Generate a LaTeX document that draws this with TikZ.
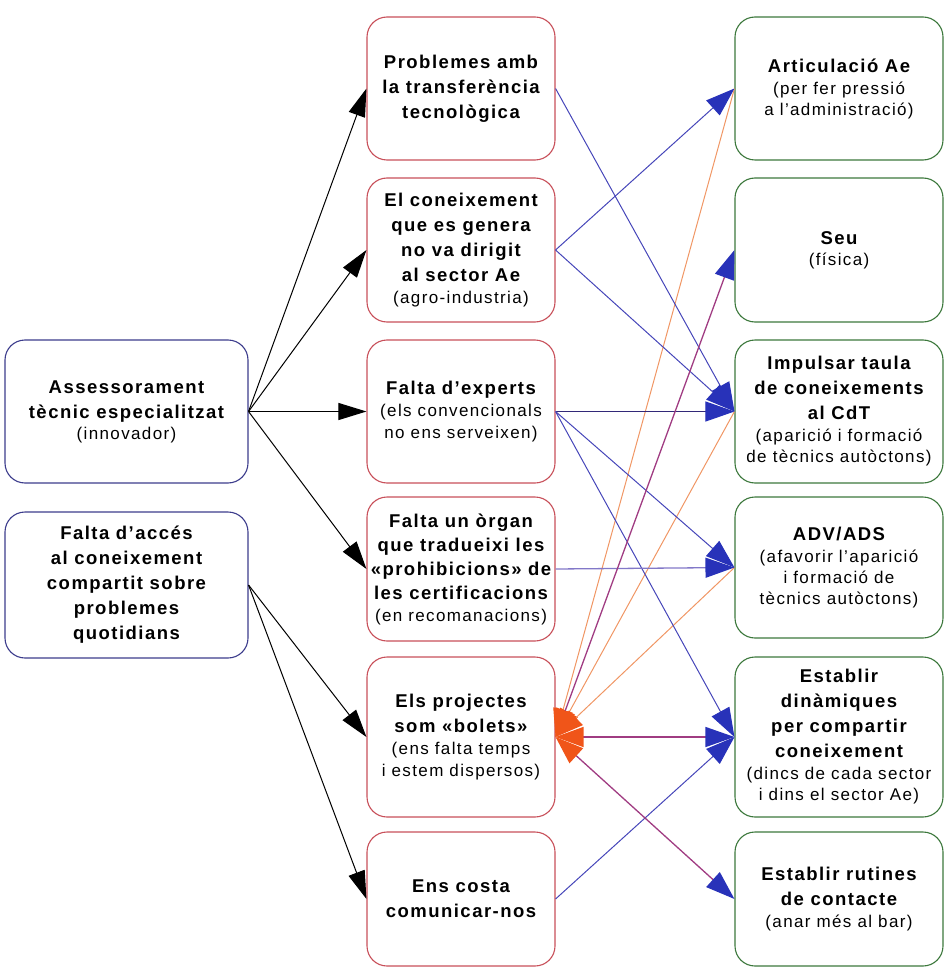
\documentclass[tikz,border=0pt]{standalone}
\usepackage{fontspec}
\setmainfont{Liberation Sans}[LetterSpace=8]
\usetikzlibrary{arrows.meta}
\definecolor{leftc}{RGB}{60,60,140}
\definecolor{midc}{RGB}{200,80,90}
\definecolor{rightc}{RGB}{60,120,60}
\definecolor{bluel}{RGB}{70,70,185}
\definecolor{bluetip}{RGB}{40,50,185}
\definecolor{orl}{RGB}{240,150,100}
\definecolor{ortip}{RGB}{240,85,25}
\definecolor{purl}{RGB}{160,60,130}
\definecolor{lavl}{RGB}{130,120,200}
\newcommand\hdT{\fontsize{18.5}{25}\selectfont\bfseries}
\newcommand\subT{\fontsize{17}{25}\selectfont\mdseries}
\begin{document}
\begin{tikzpicture}[x=1pt,y=-1pt,
  box/.style={draw, rounded corners=20pt, line width=1.1pt, inner sep=0pt, align=center, fill=white, font=\hdT},
  lbox/.style={box, draw=leftc, minimum width=243pt},
  mbox/.style={box, draw=midc, minimum width=188pt},
  rbox/.style={box, draw=rightc, minimum width=208pt},
  blk/.style={black, line width=1pt, -{Triangle[length=28pt,width=17pt]}},
  blu/.style={bluel, line width=1pt, -{Triangle[length=29pt,width=20pt,color=bluetip]}},
  ora/.style={orl, line width=1pt, -{Triangle[length=28pt,width=20pt,color=ortip]}},
  pur/.style={purl, line width=1.3pt, {Triangle[length=28pt,width=20pt,color=ortip]}-{Triangle[length=29pt,width=20pt,color=bluetip]}}
]
\useasboundingbox (0,0) rectangle (945,968);
% left column
\node[lbox, minimum height=143pt] (l1) at (126.5,411.5) {Assessorament\\tècnic especialitzat\\[-4pt]{\subT (innovador)}};
\node[lbox, minimum height=146pt] (l2) at (126.5,585) {Falta d'accés\\al coneixement\\compartit sobre\\problemes\\quotidians};
% middle column
\node[mbox, minimum height=143pt] (m1) at (461,88.5) {Problemes amb\\la transferència\\tecnològica};
\node[mbox, minimum height=144pt] (m2) at (461,250) {El coneixement\\que es genera\\no va dirigit\\al sector Ae\\[-3pt]{\subT (agro-industria)}};
\node[mbox, minimum height=143pt] (m3) at (461,411.5) {Falta d'experts\\[-3pt]{\subT (els convencionals}\\[-3pt]{\subT no ens serveixen)}};
\node[mbox, minimum height=144pt] (m4) at (461,569) {Falta un òrgan\\[-1pt]que tradueixi les\\[-1pt]«prohibicions» de\\[-1pt]les certificacions\\[-3pt]{\subT (en recomanacions)}};
\node[mbox, minimum height=160pt] (m5) at (461,737) {Els projectes\\som «bolets»\\[-3pt]{\subT (ens falta temps}\\[-3pt]{\subT i estem dispersos)}};
\node[mbox, minimum height=134pt] (m6) at (461,899) {Ens costa\\comunicar-nos};
% right column
\node[rbox, minimum height=143pt] (r1) at (839,88.5) {Articulació Ae\\[-3pt]{\subT (per fer pressió}\\[-4pt]{\subT a l'administració)}};
\node[rbox, minimum height=144pt] (r2) at (839,250) {Seu\\[-4pt]{\subT (física)}};
\node[rbox, minimum height=143pt] (r3) at (839,411.5) {Impulsar taula\\de coneixements\\al CdT\\[-3pt]{\subT (aparició i formació}\\[-4pt]{\subT de tècnics autòctons)}};
\node[rbox, minimum height=141pt] (r4) at (839,567.5) {ADV/ADS\\[-3pt]{\subT (afavorir l'aparició}\\[-4pt]{\subT i formació de}\\[-4pt]{\subT tècnics autòctons)}};
\node[rbox, minimum height=160pt] (r5) at (839,737) {Establir\\dinàmiques\\per compartir\\coneixement\\[-3pt]{\subT (dincs de cada sector}\\[-4pt]{\subT i dins el sector Ae)}};
\node[rbox, minimum height=134pt] (r6) at (839,899) {Establir rutines\\de contacte\\[-3pt]{\subT (anar més al bar)}};
% black arrows
\draw[blk] (l1.east) -- (m1.west);
\draw[blk] (l1.east) -- (m2.west);
\draw[blk] (l1.east) -- (m3.west);
\draw[blk] (l1.east) -- (m4.west);
\draw[blk] (l2.east) -- (m5.west);
\draw[blk] (l2.east) -- (m6.west);
% orange lines into m5
\draw[ora] (r1.west) -- (m5.east);
\draw[ora] (r3.west) -- (m5.east);
\draw[ora] (r4.west) -- (m5.east);
% blue arrows
\draw[blu] (m1.east) -- (r3.west);
\draw[blu] (m2.east) -- (r1.west);
\draw[blu] (m2.east) -- (r3.west);
\draw[blu, draw={rgb,255:red,50;green,40;blue,120}] (m3.east) -- (r3.west);
\draw[blu] (m3.east) -- (r4.west);
\draw[blu] (m3.east) -- (r5.west);
\draw[blu, draw=lavl, line width=1.3pt] (m4.east) -- (r4.west);
\draw[blu] (m6.east) -- (r5.west);
% two-way links
\draw[pur] (m5.east) -- (r2.west);
\draw[pur] (m5.east) -- (r5.west);
\draw[pur] (m5.east) -- (r6.west);
\end{tikzpicture}
\end{document}
